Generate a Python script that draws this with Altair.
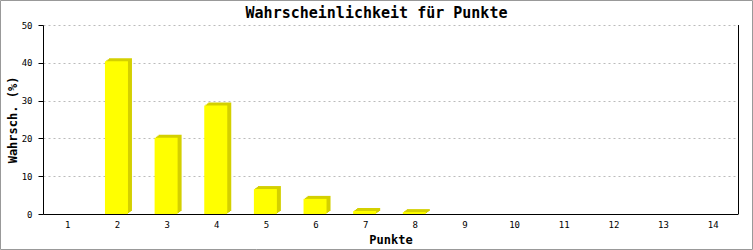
import altair as alt
import pandas as pd

punkte = [str(i) for i in range(1, 15)]
werte = [0, 40.4, 20.2, 28.7, 6.6, 4.0, 0.8, 0.5, 0, 0, 0, 0, 0, 0]
titel = "Wahrscheinlichkeit für Punkte"

df = pd.DataFrame({"Punkte": punkte, "Wert": werte})

FONT = "DejaVu Sans Mono"
W, H = 695, 189
YELLOW = "#ffff00"
DARK = "#d4d000"

x_enc = alt.X(
    "Punkte:N",
    sort=punkte,
    scale=alt.Scale(paddingInner=0, paddingOuter=0),
    axis=alt.Axis(
        title="Punkte",
        labelAngle=0,
        ticks=False,
        labelPadding=6,
        labelFont=FONT,
        labelFontSize=9,
        labelColor="black",
        titleFont=FONT,
        titleFontSize=12,
        titleFontWeight="bold",
        titleColor="black",
        titleBaseline="alphabetic",
        titleY=29,
        domainColor="black",
        grid=False,
    ),
)
y_enc = alt.Y(
    "Wert:Q",
    scale=alt.Scale(domain=[0, 50], nice=False),
    axis=alt.Axis(
        title="Wahrsch. (%)",
        values=[0, 10, 20, 30, 40, 50],
        tickSize=5,
        tickColor="black",
        labelPadding=6,
        labelFont=FONT,
        labelFontSize=9,
        labelColor="black",
        titleFont=FONT,
        titleFontSize=12,
        titleFontWeight="bold",
        titleColor="black",
        titleBaseline="middle",
        titleX=-31,
        domainColor="black",
        grid=True,
        gridDash=[2, 3],
        gridColor="#bbbbbb",
        gridWidth=1,
    ),
)

base = alt.Chart(df).encode(x=x_enc, y=y_enc)

back_layers = [
    base.mark_bar(width=23, color=DARK, xOffset=dx, yOffset=dy)
    for dx, dy in [(0.3, -1), (1.7, -2), (3, -3)]
]
front = base.mark_bar(width=23, color=YELLOW, xOffset=-1)

one = pd.DataFrame({"t": [titel]})
right_line = alt.Chart(one).mark_rule(color="black", strokeWidth=1).encode(
    x=alt.value(W + 0.5), y=alt.value(0), y2=alt.value(H)
)
frame = alt.Chart(one).mark_rect(fill=None, stroke="#999999", strokeWidth=1).encode(
    x=alt.value(-42.5), x2=alt.value(709.5), y=alt.value(-24.5), y2=alt.value(224.5)
)
title_text = alt.Chart(one).mark_text(
    font=FONT, fontSize=15, fontWeight="bold", color="black",
    align="center", baseline="alphabetic",
).encode(text="t:N", x=alt.value(333.5), y=alt.value(-7))

chart = alt.layer(*back_layers, front, right_line, frame, title_text).properties(
    width=W,
    height=H,
    autosize=alt.AutoSizeParams(type="none"),
    padding={"left": 43, "top": 25, "right": 15, "bottom": 36},
    background="white",
).configure_view(stroke=None)

chart.save("out.html", embed_options={"renderer": "svg", "actions": False})
